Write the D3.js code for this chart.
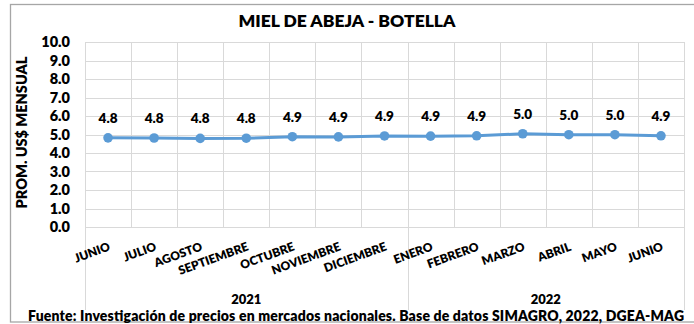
<!DOCTYPE html>
<html>
<head>
<meta charset="utf-8">
<script src="https://cdn.jsdelivr.net/npm/d3@7"></script>
<style>
  html, body { margin: 0; padding: 0; background: #fff; }
  svg { display: block; }
  text { font-family: Lato, "Open Sans", sans-serif; font-weight: 800; fill: #000; }
</style>
</head>
<body>
<svg id="chart" width="694" height="324"></svg>
<script>
// Monthly average price, honey (bottle), US$
const months = ["JUNIO", "JULIO", "AGOSTO", "SEPTIEMBRE", "OCTUBRE", "NOVIEMBRE", "DICIEMBRE",
                "ENERO", "FEBRERO", "MARZO", "ABRIL", "MAYO", "JUNIO"];
const years = ["2021", "2022"];
const yearSpans = [7, 6];          // number of months belonging to each year
const prices = [4.82, 4.81, 4.79, 4.80, 4.88, 4.87, 4.92, 4.91, 4.93, 5.04, 4.99, 4.99, 4.93];
const yTicks = [0, 1, 2, 3, 4, 5, 6, 7, 8, 9, 10];

const title = "MIEL DE ABEJA - BOTELLA";
const yTitle = "PROM. US$ MENSUAL";
const source = "Fuente: Investigación de precios en mercados nacionales. Base de datos SIMAGRO, 2022, DGEA-MAG";

const svg = d3.select("#chart");
const plot = { left: 85, right: 684, top: 42, bottom: 227 };
const gridColor = "#d9d9d9";

// outer chart frame
svg.append("rect")
  .attr("x", 10.5).attr("y", 4.5)
  .attr("width", 700).attr("height", 317.5)
  .attr("fill", "none").attr("stroke", "#a6a6a6").attr("stroke-width", 1.3);

const idx = months.map((d, i) => i);
const x = d3.scaleBand().domain(idx).range([plot.left, plot.right]).padding(0);
const y = d3.scaleLinear().domain([0, 10]).range([plot.bottom, plot.top]);

// horizontal gridlines
svg.append("g").selectAll("line").data(yTicks).join("line")
  .attr("x1", plot.left).attr("x2", plot.right)
  .attr("y1", d => Math.round(y(d)) + 0.5).attr("y2", d => Math.round(y(d)) + 0.5)
  .attr("stroke", gridColor).attr("stroke-width", 1);

// vertical gridlines at category boundaries
const edges = idx.map(i => x(i)).concat([plot.right]);
svg.append("g").selectAll("line").data(edges).join("line")
  .attr("x1", d => Math.round(d) + 0.5).attr("x2", d => Math.round(d) + 0.5)
  .attr("y1", plot.top).attr("y2", plot.bottom)
  .attr("stroke", gridColor).attr("stroke-width", 1);

// year group separators below the axis
let acc = 0;
const groupEdges = [0];
yearSpans.forEach(s => { acc += s; groupEdges.push(acc); });
const edgeX = k => (k < months.length ? x(k) : plot.right);
svg.append("g").selectAll("line").data(groupEdges).join("line")
  .attr("x1", d => Math.round(edgeX(d)) + 0.5)
  .attr("x2", d => Math.round(edgeX(d)) + 0.5)
  .attr("y1", plot.bottom).attr("y2", 310)
  .attr("stroke", gridColor).attr("stroke-width", 1);

// y axis tick labels
const yAxis = d3.axisLeft(y).tickValues(yTicks).tickFormat(d3.format(".1f")).tickSize(0).tickPadding(0);
const yg = svg.append("g").attr("transform", `translate(70,0)`).call(yAxis);
yg.select(".domain").remove();
yg.selectAll("text").style("font-size", "14.5px").style("font-family", "Lato, sans-serif")
  .style("font-weight", 800).attr("fill", "#000");

// x axis month labels (rotated)
svg.append("g").selectAll("text").data(idx).join("text")
  .attr("transform", i => `translate(${x(i) + x.bandwidth() / 2 + 3},250) rotate(-20)`)
  .attr("text-anchor", "end")
  .style("font-size", "12px")
  .text(i => months[i]);

// year labels
svg.append("g").selectAll("text").data(years).join("text")
  .attr("x", (d, k) => (edgeX(groupEdges[k]) + edgeX(groupEdges[k + 1])) / 2)
  .attr("y", 304)
  .attr("text-anchor", "middle")
  .style("font-size", "13px")
  .text(d => d);

// price line
const line = d3.line().x((d, i) => x(i) + x.bandwidth() / 2).y(d => y(d));
svg.append("path").datum(prices)
  .attr("d", line).attr("fill", "none")
  .attr("stroke", "#5b9bd5").attr("stroke-width", 3).attr("stroke-linejoin", "round");

svg.append("g").selectAll("circle").data(prices).join("circle")
  .attr("cx", (d, i) => x(i) + x.bandwidth() / 2).attr("cy", d => y(d))
  .attr("r", 4.8).attr("fill", "#5b9bd5");

// value labels
svg.append("g").selectAll("text").data(prices).join("text")
  .attr("x", (d, i) => x(i) + x.bandwidth() / 2)
  .attr("y", d => y(d) - 15)
  .attr("text-anchor", "middle")
  .style("font-size", "13.5px")
  .text(d => d3.format(".1f")(d));

// chart title
svg.append("text")
  .attr("x", 347).attr("y", 27)
  .attr("text-anchor", "middle")
  .style("font-size", "17.5px")
  .text(title);

// y axis title
svg.append("text")
  .attr("transform", `translate(27,${(plot.top + plot.bottom) / 2 - 2}) rotate(-90)`)
  .attr("text-anchor", "middle")
  .style("font-size", "14.5px")
  .text(yTitle);

// source note
svg.append("text")
  .attr("x", 28).attr("y", 321)
  .attr("textLength", 656).attr("lengthAdjust", "spacing")
  .style("font-size", "14px")
  .text(source);
</script>
</body>
</html>
